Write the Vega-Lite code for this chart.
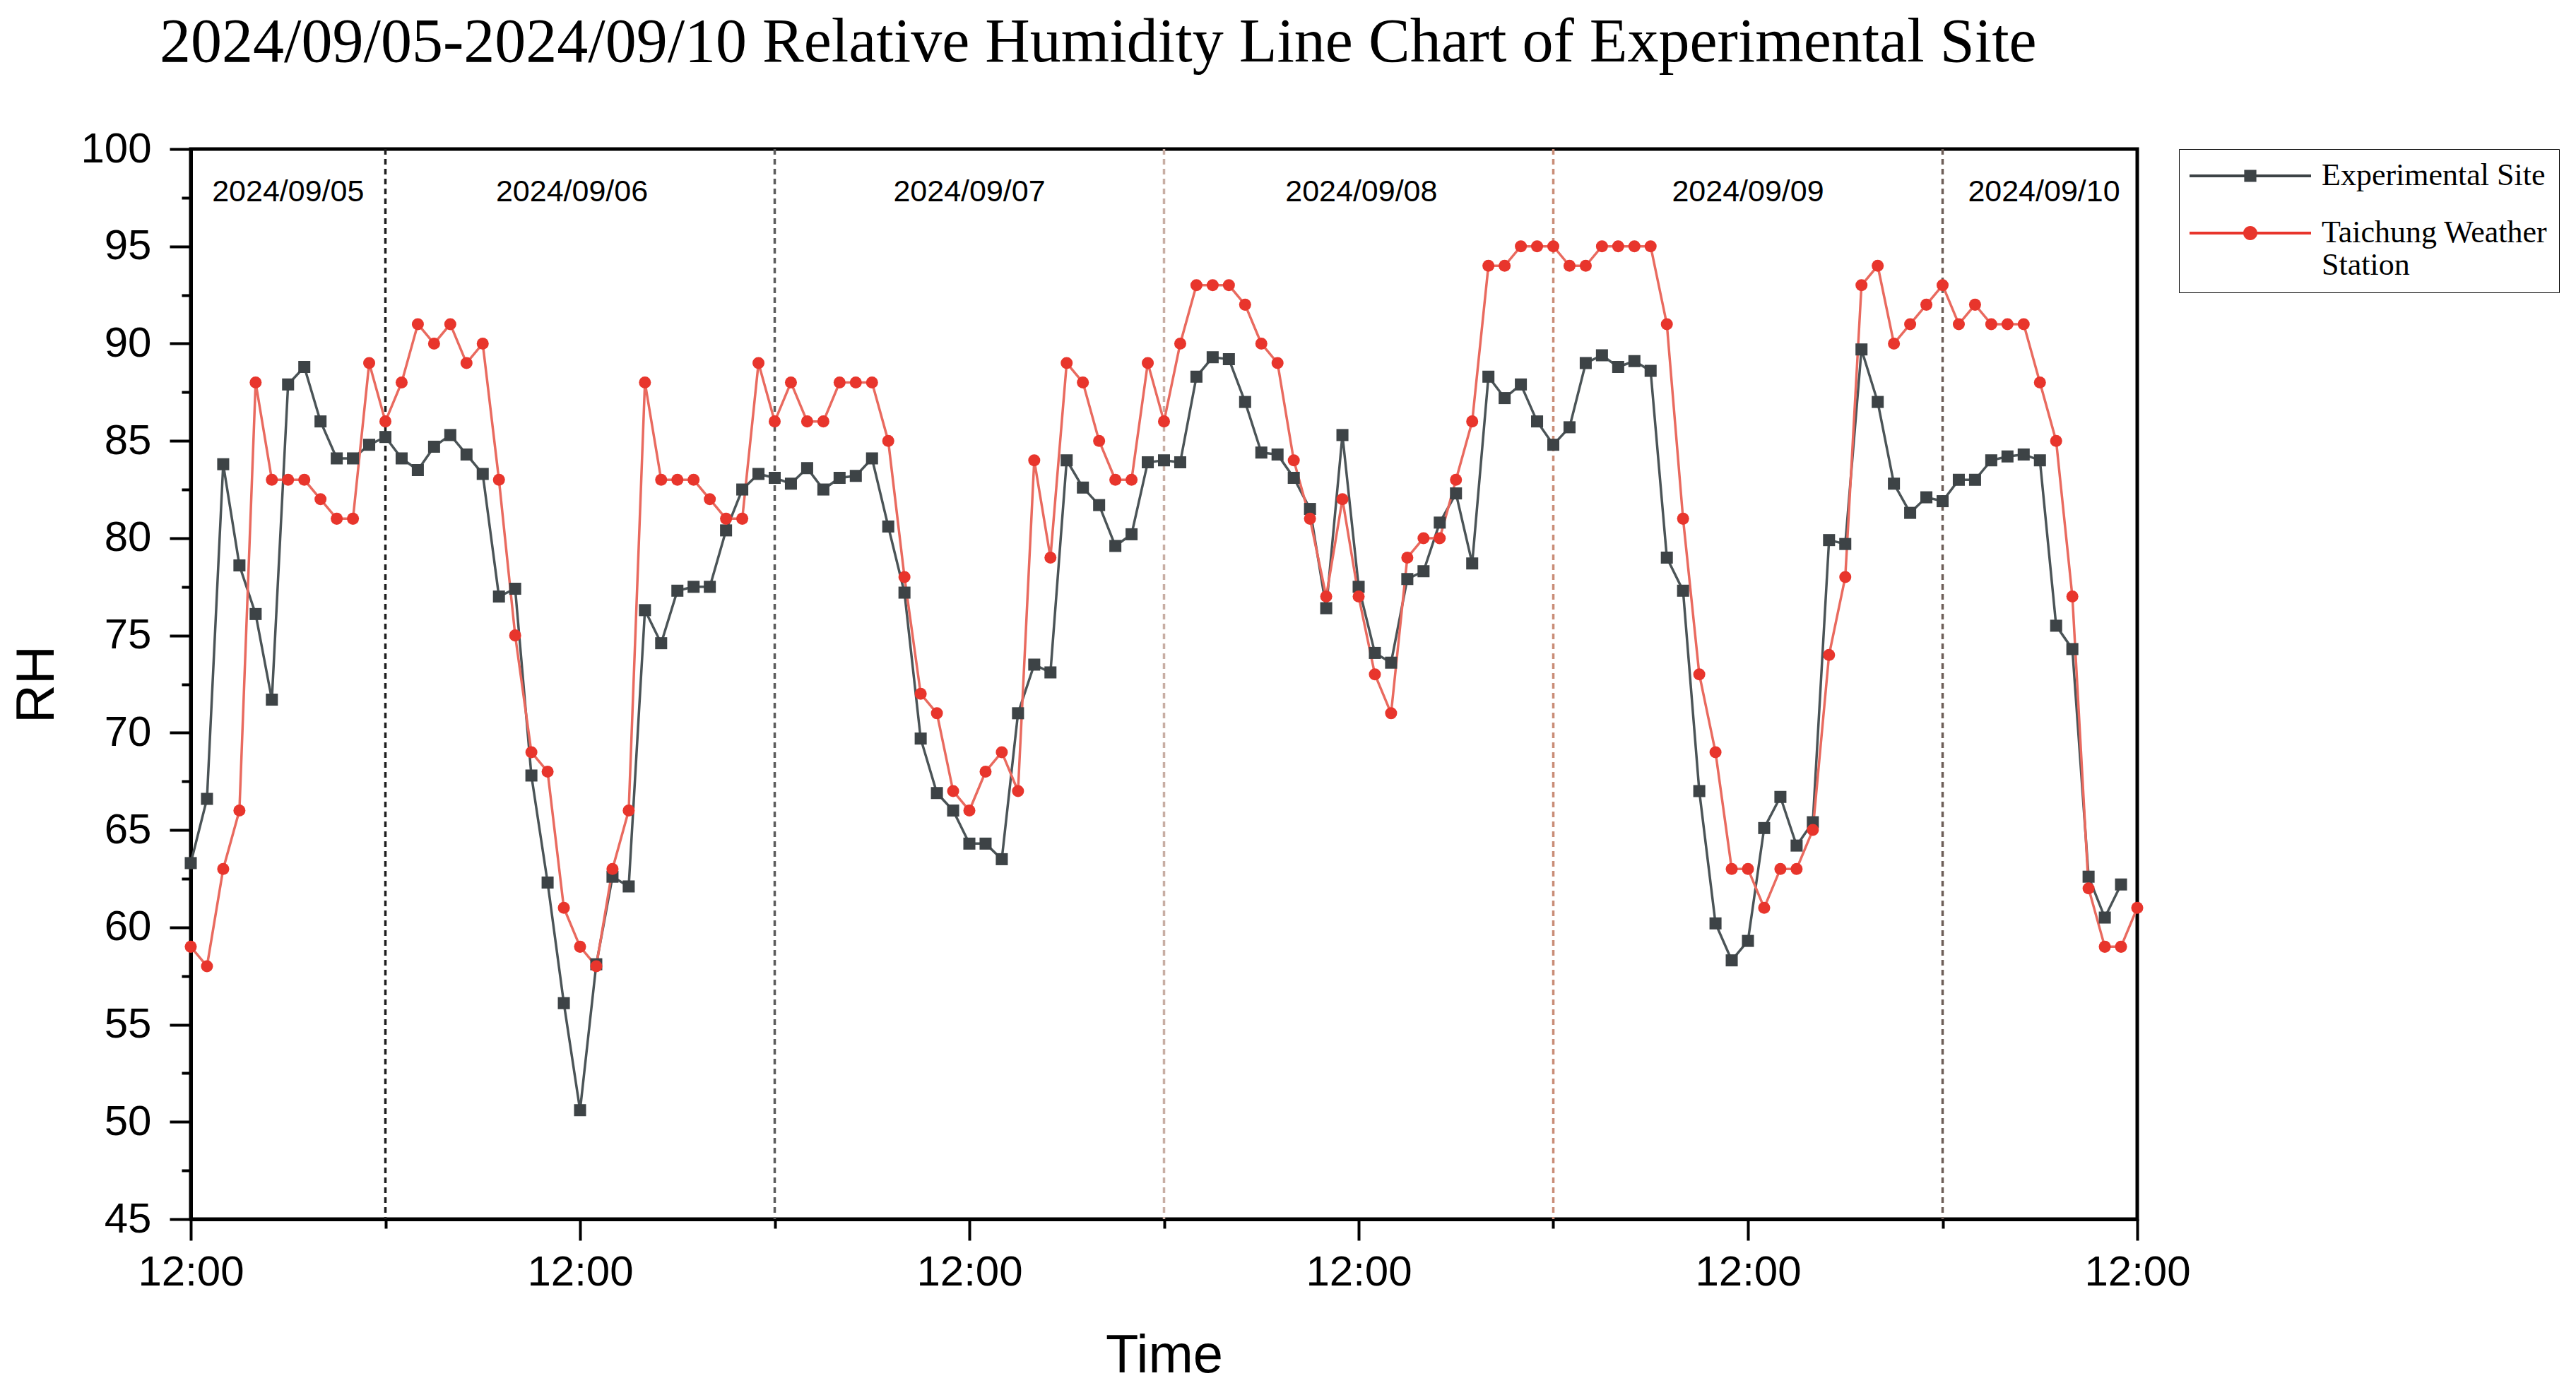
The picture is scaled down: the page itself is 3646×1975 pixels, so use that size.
{
  "$schema": "https://vega.github.io/schema/vega-lite/v6.json",
  "autosize": {"type": "none"},
  "padding": {"left": 270, "top": 211, "right": 621, "bottom": 249},
  "width": 2755,
  "height": 1515,
  "background": "white",
  "title": {
    "text": "2024/09/05-2024/09/10 Relative Humidity Line Chart of Experimental Site",
    "anchor": "start",
    "frame": "group",
    "dx": -44,
    "offset": 76,
    "font": "Liberation Serif",
    "fontSize": 88,
    "fontWeight": "normal",
    "color": "black"
  },
  "config": {
    "view": {"stroke": "black", "strokeWidth": 5},
    "font": "Liberation Sans",
    "axis": {"grid": false, "domainColor": "black", "tickColor": "black", "labelColor": "black", "titleColor": "black"}
  },
  "datasets": {
    "rh": [
      {"t": "2024-09-05T12:00Z", "Experimental Site": 63.3, "Taichung Weather Station": 59},
      {"t": "2024-09-05T13:00Z", "Experimental Site": 66.6, "Taichung Weather Station": 58},
      {"t": "2024-09-05T14:00Z", "Experimental Site": 83.8, "Taichung Weather Station": 63},
      {"t": "2024-09-05T15:00Z", "Experimental Site": 78.6, "Taichung Weather Station": 66},
      {"t": "2024-09-05T16:00Z", "Experimental Site": 76.1, "Taichung Weather Station": 88},
      {"t": "2024-09-05T17:00Z", "Experimental Site": 71.7, "Taichung Weather Station": 83},
      {"t": "2024-09-05T18:00Z", "Experimental Site": 87.9, "Taichung Weather Station": 83},
      {"t": "2024-09-05T19:00Z", "Experimental Site": 88.8, "Taichung Weather Station": 83},
      {"t": "2024-09-05T20:00Z", "Experimental Site": 86.0, "Taichung Weather Station": 82},
      {"t": "2024-09-05T21:00Z", "Experimental Site": 84.1, "Taichung Weather Station": 81},
      {"t": "2024-09-05T22:00Z", "Experimental Site": 84.1, "Taichung Weather Station": 81},
      {"t": "2024-09-05T23:00Z", "Experimental Site": 84.8, "Taichung Weather Station": 89},
      {"t": "2024-09-06T00:00Z", "Experimental Site": 85.2, "Taichung Weather Station": 86},
      {"t": "2024-09-06T01:00Z", "Experimental Site": 84.1, "Taichung Weather Station": 88},
      {"t": "2024-09-06T02:00Z", "Experimental Site": 83.5, "Taichung Weather Station": 91},
      {"t": "2024-09-06T03:00Z", "Experimental Site": 84.7, "Taichung Weather Station": 90},
      {"t": "2024-09-06T04:00Z", "Experimental Site": 85.3, "Taichung Weather Station": 91},
      {"t": "2024-09-06T05:00Z", "Experimental Site": 84.3, "Taichung Weather Station": 89},
      {"t": "2024-09-06T06:00Z", "Experimental Site": 83.3, "Taichung Weather Station": 90},
      {"t": "2024-09-06T07:00Z", "Experimental Site": 77.0, "Taichung Weather Station": 83},
      {"t": "2024-09-06T08:00Z", "Experimental Site": 77.4, "Taichung Weather Station": 75},
      {"t": "2024-09-06T09:00Z", "Experimental Site": 67.8, "Taichung Weather Station": 69},
      {"t": "2024-09-06T10:00Z", "Experimental Site": 62.3, "Taichung Weather Station": 68},
      {"t": "2024-09-06T11:00Z", "Experimental Site": 56.1, "Taichung Weather Station": 61},
      {"t": "2024-09-06T12:00Z", "Experimental Site": 50.6, "Taichung Weather Station": 59},
      {"t": "2024-09-06T13:00Z", "Experimental Site": 58.1, "Taichung Weather Station": 58},
      {"t": "2024-09-06T14:00Z", "Experimental Site": 62.6, "Taichung Weather Station": 63},
      {"t": "2024-09-06T15:00Z", "Experimental Site": 62.1, "Taichung Weather Station": 66},
      {"t": "2024-09-06T16:00Z", "Experimental Site": 76.3, "Taichung Weather Station": 88},
      {"t": "2024-09-06T17:00Z", "Experimental Site": 74.6, "Taichung Weather Station": 83},
      {"t": "2024-09-06T18:00Z", "Experimental Site": 77.3, "Taichung Weather Station": 83},
      {"t": "2024-09-06T19:00Z", "Experimental Site": 77.5, "Taichung Weather Station": 83},
      {"t": "2024-09-06T20:00Z", "Experimental Site": 77.5, "Taichung Weather Station": 82},
      {"t": "2024-09-06T21:00Z", "Experimental Site": 80.4, "Taichung Weather Station": 81},
      {"t": "2024-09-06T22:00Z", "Experimental Site": 82.5, "Taichung Weather Station": 81},
      {"t": "2024-09-06T23:00Z", "Experimental Site": 83.3, "Taichung Weather Station": 89},
      {"t": "2024-09-07T00:00Z", "Experimental Site": 83.1, "Taichung Weather Station": 86},
      {"t": "2024-09-07T01:00Z", "Experimental Site": 82.8, "Taichung Weather Station": 88},
      {"t": "2024-09-07T02:00Z", "Experimental Site": 83.6, "Taichung Weather Station": 86},
      {"t": "2024-09-07T03:00Z", "Experimental Site": 82.5, "Taichung Weather Station": 86},
      {"t": "2024-09-07T04:00Z", "Experimental Site": 83.1, "Taichung Weather Station": 88},
      {"t": "2024-09-07T05:00Z", "Experimental Site": 83.2, "Taichung Weather Station": 88},
      {"t": "2024-09-07T06:00Z", "Experimental Site": 84.1, "Taichung Weather Station": 88},
      {"t": "2024-09-07T07:00Z", "Experimental Site": 80.6, "Taichung Weather Station": 85},
      {"t": "2024-09-07T08:00Z", "Experimental Site": 77.2, "Taichung Weather Station": 78},
      {"t": "2024-09-07T09:00Z", "Experimental Site": 69.7, "Taichung Weather Station": 72},
      {"t": "2024-09-07T10:00Z", "Experimental Site": 66.9, "Taichung Weather Station": 71},
      {"t": "2024-09-07T11:00Z", "Experimental Site": 66.0, "Taichung Weather Station": 67},
      {"t": "2024-09-07T12:00Z", "Experimental Site": 64.3, "Taichung Weather Station": 66},
      {"t": "2024-09-07T13:00Z", "Experimental Site": 64.3, "Taichung Weather Station": 68},
      {"t": "2024-09-07T14:00Z", "Experimental Site": 63.5, "Taichung Weather Station": 69},
      {"t": "2024-09-07T15:00Z", "Experimental Site": 71.0, "Taichung Weather Station": 67},
      {"t": "2024-09-07T16:00Z", "Experimental Site": 73.5, "Taichung Weather Station": 84},
      {"t": "2024-09-07T17:00Z", "Experimental Site": 73.1, "Taichung Weather Station": 79},
      {"t": "2024-09-07T18:00Z", "Experimental Site": 84.0, "Taichung Weather Station": 89},
      {"t": "2024-09-07T19:00Z", "Experimental Site": 82.6, "Taichung Weather Station": 88},
      {"t": "2024-09-07T20:00Z", "Experimental Site": 81.7, "Taichung Weather Station": 85},
      {"t": "2024-09-07T21:00Z", "Experimental Site": 79.6, "Taichung Weather Station": 83},
      {"t": "2024-09-07T22:00Z", "Experimental Site": 80.2, "Taichung Weather Station": 83},
      {"t": "2024-09-07T23:00Z", "Experimental Site": 83.9, "Taichung Weather Station": 89},
      {"t": "2024-09-08T00:00Z", "Experimental Site": 84.0, "Taichung Weather Station": 86},
      {"t": "2024-09-08T01:00Z", "Experimental Site": 83.9, "Taichung Weather Station": 90},
      {"t": "2024-09-08T02:00Z", "Experimental Site": 88.3, "Taichung Weather Station": 93},
      {"t": "2024-09-08T03:00Z", "Experimental Site": 89.3, "Taichung Weather Station": 93},
      {"t": "2024-09-08T04:00Z", "Experimental Site": 89.2, "Taichung Weather Station": 93},
      {"t": "2024-09-08T05:00Z", "Experimental Site": 87.0, "Taichung Weather Station": 92},
      {"t": "2024-09-08T06:00Z", "Experimental Site": 84.4, "Taichung Weather Station": 90},
      {"t": "2024-09-08T07:00Z", "Experimental Site": 84.3, "Taichung Weather Station": 89},
      {"t": "2024-09-08T08:00Z", "Experimental Site": 83.1, "Taichung Weather Station": 84},
      {"t": "2024-09-08T09:00Z", "Experimental Site": 81.5, "Taichung Weather Station": 81},
      {"t": "2024-09-08T10:00Z", "Experimental Site": 76.4, "Taichung Weather Station": 77},
      {"t": "2024-09-08T11:00Z", "Experimental Site": 85.3, "Taichung Weather Station": 82},
      {"t": "2024-09-08T12:00Z", "Experimental Site": 77.5, "Taichung Weather Station": 77},
      {"t": "2024-09-08T13:00Z", "Experimental Site": 74.1, "Taichung Weather Station": 73},
      {"t": "2024-09-08T14:00Z", "Experimental Site": 73.6, "Taichung Weather Station": 71},
      {"t": "2024-09-08T15:00Z", "Experimental Site": 77.9, "Taichung Weather Station": 79},
      {"t": "2024-09-08T16:00Z", "Experimental Site": 78.3, "Taichung Weather Station": 80},
      {"t": "2024-09-08T17:00Z", "Experimental Site": 80.8, "Taichung Weather Station": 80},
      {"t": "2024-09-08T18:00Z", "Experimental Site": 82.3, "Taichung Weather Station": 83},
      {"t": "2024-09-08T19:00Z", "Experimental Site": 78.7, "Taichung Weather Station": 86},
      {"t": "2024-09-08T20:00Z", "Experimental Site": 88.3, "Taichung Weather Station": 94},
      {"t": "2024-09-08T21:00Z", "Experimental Site": 87.2, "Taichung Weather Station": 94},
      {"t": "2024-09-08T22:00Z", "Experimental Site": 87.9, "Taichung Weather Station": 95},
      {"t": "2024-09-08T23:00Z", "Experimental Site": 86.0, "Taichung Weather Station": 95},
      {"t": "2024-09-09T00:00Z", "Experimental Site": 84.8, "Taichung Weather Station": 95},
      {"t": "2024-09-09T01:00Z", "Experimental Site": 85.7, "Taichung Weather Station": 94},
      {"t": "2024-09-09T02:00Z", "Experimental Site": 89.0, "Taichung Weather Station": 94},
      {"t": "2024-09-09T03:00Z", "Experimental Site": 89.4, "Taichung Weather Station": 95},
      {"t": "2024-09-09T04:00Z", "Experimental Site": 88.8, "Taichung Weather Station": 95},
      {"t": "2024-09-09T05:00Z", "Experimental Site": 89.1, "Taichung Weather Station": 95},
      {"t": "2024-09-09T06:00Z", "Experimental Site": 88.6, "Taichung Weather Station": 95},
      {"t": "2024-09-09T07:00Z", "Experimental Site": 79.0, "Taichung Weather Station": 91},
      {"t": "2024-09-09T08:00Z", "Experimental Site": 77.3, "Taichung Weather Station": 81},
      {"t": "2024-09-09T09:00Z", "Experimental Site": 67.0, "Taichung Weather Station": 73},
      {"t": "2024-09-09T10:00Z", "Experimental Site": 60.2, "Taichung Weather Station": 69},
      {"t": "2024-09-09T11:00Z", "Experimental Site": 58.3, "Taichung Weather Station": 63},
      {"t": "2024-09-09T12:00Z", "Experimental Site": 59.3, "Taichung Weather Station": 63},
      {"t": "2024-09-09T13:00Z", "Experimental Site": 65.1, "Taichung Weather Station": 61},
      {"t": "2024-09-09T14:00Z", "Experimental Site": 66.7, "Taichung Weather Station": 63},
      {"t": "2024-09-09T15:00Z", "Experimental Site": 64.2, "Taichung Weather Station": 63},
      {"t": "2024-09-09T16:00Z", "Experimental Site": 65.4, "Taichung Weather Station": 65},
      {"t": "2024-09-09T17:00Z", "Experimental Site": 79.9, "Taichung Weather Station": 74},
      {"t": "2024-09-09T18:00Z", "Experimental Site": 79.7, "Taichung Weather Station": 78},
      {"t": "2024-09-09T19:00Z", "Experimental Site": 89.7, "Taichung Weather Station": 93},
      {"t": "2024-09-09T20:00Z", "Experimental Site": 87.0, "Taichung Weather Station": 94},
      {"t": "2024-09-09T21:00Z", "Experimental Site": 82.8, "Taichung Weather Station": 90},
      {"t": "2024-09-09T22:00Z", "Experimental Site": 81.3, "Taichung Weather Station": 91},
      {"t": "2024-09-09T23:00Z", "Experimental Site": 82.1, "Taichung Weather Station": 92},
      {"t": "2024-09-10T00:00Z", "Experimental Site": 81.9, "Taichung Weather Station": 93},
      {"t": "2024-09-10T01:00Z", "Experimental Site": 83.0, "Taichung Weather Station": 91},
      {"t": "2024-09-10T02:00Z", "Experimental Site": 83.0, "Taichung Weather Station": 92},
      {"t": "2024-09-10T03:00Z", "Experimental Site": 84.0, "Taichung Weather Station": 91},
      {"t": "2024-09-10T04:00Z", "Experimental Site": 84.2, "Taichung Weather Station": 91},
      {"t": "2024-09-10T05:00Z", "Experimental Site": 84.3, "Taichung Weather Station": 91},
      {"t": "2024-09-10T06:00Z", "Experimental Site": 84.0, "Taichung Weather Station": 88},
      {"t": "2024-09-10T07:00Z", "Experimental Site": 75.5, "Taichung Weather Station": 85},
      {"t": "2024-09-10T08:00Z", "Experimental Site": 74.3, "Taichung Weather Station": 77},
      {"t": "2024-09-10T09:00Z", "Experimental Site": 62.6, "Taichung Weather Station": 62},
      {"t": "2024-09-10T10:00Z", "Experimental Site": 60.5, "Taichung Weather Station": 59},
      {"t": "2024-09-10T11:00Z", "Experimental Site": 62.2, "Taichung Weather Station": 59},
      {"t": "2024-09-10T12:00Z", "Taichung Weather Station": 61}
    ],
    "midnights": [
      {"t": "2024-09-06T00:00Z", "day": "09/06"},
      {"t": "2024-09-07T00:00Z", "day": "09/07"},
      {"t": "2024-09-08T00:00Z", "day": "09/08"},
      {"t": "2024-09-09T00:00Z", "day": "09/09"},
      {"t": "2024-09-10T00:00Z", "day": "09/10"}
    ],
    "days": [
      {"t": "2024-09-05T18:00Z", "label": "2024/09/05"},
      {"t": "2024-09-06T11:30Z", "label": "2024/09/06"},
      {"t": "2024-09-07T12:00Z", "label": "2024/09/07"},
      {"t": "2024-09-08T12:10Z", "label": "2024/09/08"},
      {"t": "2024-09-09T12:00Z", "label": "2024/09/09"},
      {"t": "2024-09-10T06:15Z", "label": "2024/09/10"}
    ]
  },
  "resolve": {
    "scale": {"color": "independent", "shape": "independent"},
    "axis": {"x": "independent", "y": "independent"}
  },
  "layer": [
    {
      "data": {"name": "midnights"},
      "mark": {"type": "rule", "strokeDash": [8, 6], "strokeWidth": 3.5},
      "encoding": {
        "x": {
          "field": "t", "type": "temporal",
          "scale": {"type": "utc", "nice": false, "domain": [{"year": 2024, "month": 9, "date": 5, "hours": 12, "utc": true}, {"year": 2024, "month": 9, "date": 10, "hours": 12, "utc": true}]},
          "axis": {
            "orient": "bottom", "title": null, "labels": false, "domain": false, "grid": false,
            "ticks": true, "tickSize": 13, "tickWidth": 4, "tickColor": "black",
            "values": [
              {"year": 2024, "month": 9, "date": 6, "hours": 0, "utc": true},
              {"year": 2024, "month": 9, "date": 7, "hours": 0, "utc": true},
              {"year": 2024, "month": 9, "date": 8, "hours": 0, "utc": true},
              {"year": 2024, "month": 9, "date": 9, "hours": 0, "utc": true},
              {"year": 2024, "month": 9, "date": 10, "hours": 0, "utc": true}
            ]
          }
        },
        "color": {
          "field": "day", "type": "nominal", "legend": null,
          "scale": {"domain": ["09/06", "09/07", "09/08", "09/09", "09/10"], "range": ["#1e1e1e", "#5c5c5c", "#c8aea4", "#c98d77", "#6e5f59"]}
        }
      }
    },
    {
      "data": {"name": "days"},
      "mark": {"type": "text", "font": "Liberation Sans", "fontSize": 43, "color": "black", "baseline": "middle", "align": "center"},
      "encoding": {
        "x": {"field": "t", "type": "temporal", "scale": {"type": "utc", "nice": false}, "axis": null},
        "y": {
          "datum": 97.8, "type": "quantitative",
          "scale": {"domain": [45, 100], "nice": false, "zero": false},
          "axis": {
            "orient": "left", "title": null, "labels": false, "domain": false, "grid": false,
            "ticks": true, "tickSize": 13, "tickWidth": 4, "tickColor": "black",
            "values": [47.5, 52.5, 57.5, 62.5, 67.5, 72.5, 77.5, 82.5, 87.5, 92.5, 97.5]
          }
        },
        "text": {"field": "label", "type": "nominal"}
      }
    },
    {
      "data": {"name": "rh"},
      "transform": [{"fold": ["Experimental Site", "Taichung Weather Station"], "as": ["series", "rh"]}],
      "mark": {"type": "line", "strokeWidth": 3.5},
      "encoding": {
        "x": {
          "field": "t", "type": "temporal",
          "scale": {"type": "utc", "nice": false, "domain": [{"year": 2024, "month": 9, "date": 5, "hours": 12, "utc": true}, {"year": 2024, "month": 9, "date": 10, "hours": 12, "utc": true}]},
          "axis": {
            "orient": "bottom", "title": "Time",
            "labelExpr": "utcFormat(datum.value, '%H:%M')",
            "values": [
              {"year": 2024, "month": 9, "date": 5, "hours": 12, "utc": true},
              {"year": 2024, "month": 9, "date": 6, "hours": 12, "utc": true},
              {"year": 2024, "month": 9, "date": 7, "hours": 12, "utc": true},
              {"year": 2024, "month": 9, "date": 8, "hours": 12, "utc": true},
              {"year": 2024, "month": 9, "date": 9, "hours": 12, "utc": true},
              {"year": 2024, "month": 9, "date": 10, "hours": 12, "utc": true}
            ],
            "domain": true, "domainWidth": 5, "domainColor": "black",
            "tickSize": 30, "tickWidth": 4, "tickColor": "black",
            "labelFont": "Liberation Sans", "labelFontSize": 60, "labelPadding": 16, "labelColor": "black",
            "labelFlush": false, "labelOverlap": false, "labelBound": false,
            "titleFont": "Liberation Sans", "titleFontSize": 76, "titleFontWeight": "normal", "titlePadding": 51, "titleColor": "black",
            "grid": false
          }
        },
        "y": {
          "field": "rh", "type": "quantitative",
          "scale": {"domain": [45, 100], "nice": false, "zero": false},
          "axis": {
            "orient": "left", "title": "RH",
            "values": [45, 50, 55, 60, 65, 70, 75, 80, 85, 90, 95, 100],
            "domain": true, "domainWidth": 5, "domainColor": "black",
            "tickSize": 30, "tickWidth": 4, "tickColor": "black",
            "labelFont": "Liberation Sans", "labelFontSize": 60, "labelPadding": 26, "labelColor": "black",
            "labelFlush": false, "labelOverlap": false,
            "titleFont": "Liberation Sans", "titleFontSize": 76, "titleFontWeight": "normal", "titlePadding": 22, "titleColor": "black",
            "grid": false
          }
        },
        "color": {
          "field": "series", "type": "nominal", "legend": null,
          "scale": {"domain": ["Experimental Site", "Taichung Weather Station"], "range": ["#4b5457", "#e96a5f"]}
        },
        "detail": {"field": "series", "type": "nominal"}
      }
    },
    {
      "data": {"name": "rh"},
      "transform": [{"fold": ["Experimental Site", "Taichung Weather Station"], "as": ["series", "rh"]}],
      "mark": {"type": "point", "filled": true, "opacity": 1, "size": 290, "strokeWidth": 0},
      "encoding": {
        "x": {"field": "t", "type": "temporal", "scale": {"type": "utc", "nice": false}, "axis": null},
        "y": {"field": "rh", "type": "quantitative", "scale": {"domain": [45, 100], "nice": false, "zero": false}, "axis": null},
        "shape": {
          "field": "series", "type": "nominal", "legend": null,
          "scale": {"domain": ["Experimental Site", "Taichung Weather Station"], "range": ["square", "circle"]}
        },
        "color": {
          "field": "series", "type": "nominal", "legend": null,
          "scale": {"domain": ["Experimental Site", "Taichung Weather Station"], "range": ["#3d4346", "#e8352c"]}
        }
      }
    },
    {
      "data": {"name": "rh"},
      "transform": [
        {"fold": ["Experimental Site", "Taichung Weather Station"], "as": ["series", "rh"]},
        {"filter": "false"}
      ],
      "mark": {"type": "point", "filled": true, "opacity": 1, "strokeWidth": 0},
      "encoding": {
        "shape": {
          "field": "series", "type": "nominal",
          "scale": {
            "domain": ["Experimental Site", "Taichung Weather Station"],
            "range": [
              "M-4.3,-0.1H4.3V0.1H-4.3Z M-0.43,-0.43H0.43V0.43H-0.43Z",
              "M-4.3,-0.1H4.3V0.1H-4.3Z M0.5,0A0.5,0.5 0 1,1 -0.5,0A0.5,0.5 0 1,1 0.5,0Z"
            ]
          },
          "legend": null
        },
        "color": {
          "field": "series", "type": "nominal",
          "scale": {"domain": ["Experimental Site", "Taichung Weather Station"], "range": ["#3d4346", "#e8352c"]},
          "legend": {
            "title": null,
            "orient": "right",
            "offset": 52,
            "padding": 16,
            "strokeColor": "black",
            "fillColor": "white",
            "symbolSize": 1600,
            "symbolOffset": 63,
            "symbolStrokeWidth": 0,
            "labelFont": "Liberation Serif",
            "labelFontSize": 44,
            "labelColor": "black",
            "labelLimit": 0,
            "labelOffset": 79,
            "rowPadding": 37,
            "labelExpr": "datum.label == 'Taichung Weather Station' ? ['Taichung Weather', 'Station'] : datum.label",
            "encode": {
              "legend": {
                "strokeWidth": {"value": 4}
              },
              "symbols": {
                "shape": {"value": {"expr": "scale('shape', datum.value)"}},
                "size": {"value": 1600}
              },
              "labels": {
                "lineHeight": {"value": 51}
              }
            }
          }
        }
      }
    }
  ]
}
